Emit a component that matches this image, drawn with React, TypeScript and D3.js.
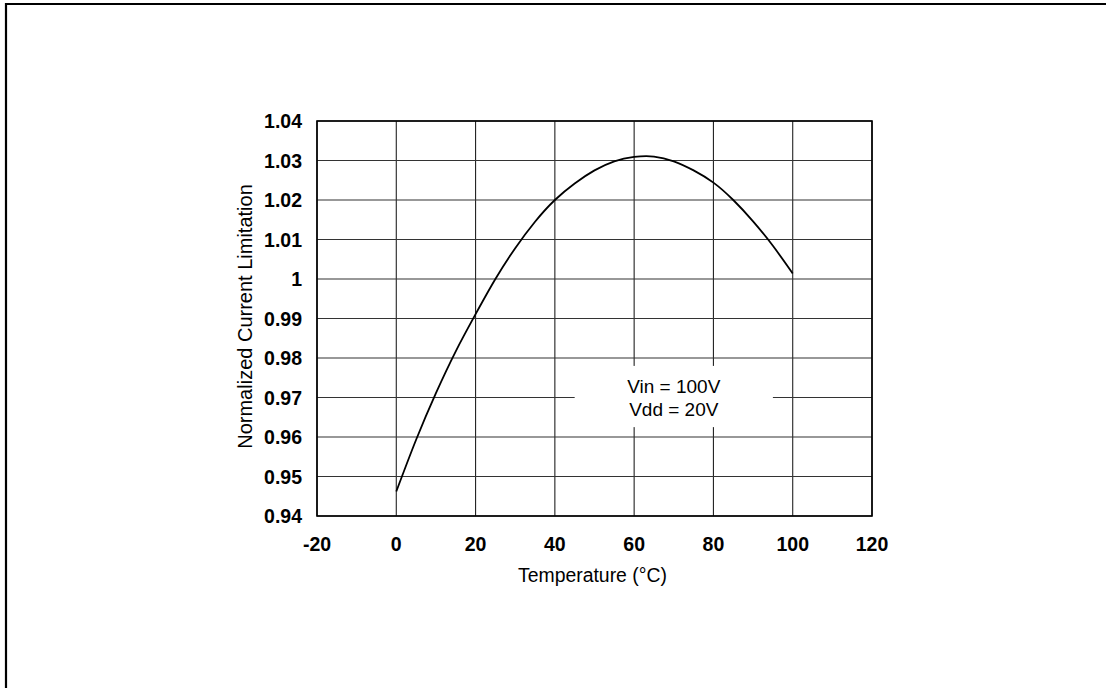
import { useEffect, useRef } from 'react';
import * as d3 from 'd3';

const temperatures = [0, 5, 10, 15, 20, 25, 30, 35, 40, 45, 50, 55, 60, 65, 70, 75, 80, 85, 90, 95, 100];
const currentLimitation = [
  0.9462, 0.9593, 0.9711, 0.9817, 0.9911, 1.0, 1.0078, 1.0145, 1.02, 1.0242, 1.0275,
  1.0298, 1.0309, 1.031, 1.0298, 1.0275, 1.0244, 1.02, 1.0146, 1.0084, 1.0014,
];
const xTicks = [-20, 0, 20, 40, 60, 80, 100, 120];
const yTicks = [0.94, 0.95, 0.96, 0.97, 0.98, 0.99, 1, 1.01, 1.02, 1.03, 1.04];
const legendLines = ['Vin = 100V', 'Vdd = 20V'];
// legend box extent in data units
const legendX = [45, 95];
const legendY = [0.9625, 0.978];

const width = 1106;
const height = 688;
const font = "'Liberation Sans', Arial, Helvetica, sans-serif";

export default function App() {
  const svgRef = useRef<SVGSVGElement>(null);

  useEffect(() => {
    if (!svgRef.current) return;
    const svg = d3.select(svgRef.current);
    svg.selectAll('*').remove();

    const margin = { top: 121, left: 317 };
    const chartWidth = 555;
    const chartHeight = 395;

    // outer frame (only top and left edges visible)
    svg
      .append('path')
      .attr('d', `M6,${height} V4 H${width}`)
      .attr('fill', 'none')
      .attr('stroke', '#000')
      .attr('stroke-width', 2.2);

    const chart = svg.append('g').attr('transform', `translate(${margin.left},${margin.top})`);

    const x = d3.scaleLinear().domain([-20, 120]).range([0, chartWidth]);
    const y = d3.scaleLinear().domain([0.94, 1.04]).range([chartHeight, 0]);

    chart
      .append('g')
      .selectAll('line')
      .data(xTicks)
      .join('line')
      .attr('x1', (d) => x(d))
      .attr('x2', (d) => x(d))
      .attr('y1', 0)
      .attr('y2', chartHeight)
      .attr('stroke', '#222')
      .attr('stroke-width', 1.1);

    chart
      .append('g')
      .selectAll('line')
      .data(yTicks)
      .join('line')
      .attr('x1', 0)
      .attr('x2', chartWidth)
      .attr('y1', (d) => y(d))
      .attr('y2', (d) => y(d))
      .attr('stroke', '#333')
      .attr('stroke-width', 1.1);

    chart
      .append('rect')
      .attr('width', chartWidth)
      .attr('height', chartHeight)
      .attr('fill', 'none')
      .attr('stroke', '#000')
      .attr('stroke-width', 1.6);

    // legend box hides the grid behind it
    const lx0 = x(legendX[0]);
    const lx1 = x(legendX[1]);
    const ly0 = y(legendY[1]);
    const ly1 = y(legendY[0]);
    chart
      .append('rect')
      .attr('x', lx0)
      .attr('y', ly0)
      .attr('width', lx1 - lx0)
      .attr('height', ly1 - ly0)
      .attr('fill', '#fff');

    chart
      .append('g')
      .selectAll('text')
      .data(legendLines)
      .join('text')
      .attr('x', (lx0 + lx1) / 2)
      .attr('y', (_, i) => (ly0 + ly1) / 2 - 4 + i * 23.5)
      .attr('text-anchor', 'middle')
      .attr('font-family', font)
      .attr('font-size', 19)
      .attr('fill', '#000')
      .text((d) => d);

    const points = temperatures.map((t, i) => [t, currentLimitation[i]] as [number, number]);
    const line = d3
      .line<[number, number]>()
      .x((d) => x(d[0]))
      .y((d) => y(d[1]))
      .curve(d3.curveNatural);

    chart
      .append('path')
      .datum(points)
      .attr('fill', 'none')
      .attr('stroke', '#000')
      .attr('stroke-width', 1.8)
      .attr('d', line);

    chart
      .append('g')
      .selectAll('text')
      .data(xTicks)
      .join('text')
      .attr('x', (d) => x(d))
      .attr('y', chartHeight + 35)
      .attr('text-anchor', 'middle')
      .attr('font-family', font)
      .attr('font-weight', 'bold')
      .attr('font-size', 19.5)
      .attr('fill', '#000')
      .text((d) => String(d));

    chart
      .append('g')
      .selectAll('text')
      .data(yTicks)
      .join('text')
      .attr('x', -15)
      .attr('y', (d) => y(d))
      .attr('dy', '0.36em')
      .attr('text-anchor', 'end')
      .attr('font-family', font)
      .attr('font-weight', 'bold')
      .attr('font-size', 19.5)
      .attr('fill', '#000')
      .text((d) => String(+d.toFixed(2)));

    chart
      .append('text')
      .attr('x', chartWidth / 2 - 2)
      .attr('y', chartHeight + 66)
      .attr('text-anchor', 'middle')
      .attr('font-family', font)
      .attr('font-size', 19.4)
      .attr('fill', '#000')
      .text('Temperature (°C)');

    chart
      .append('text')
      .attr('transform', `translate(${-65},${chartHeight / 2 - 2}) rotate(-90)`)
      .attr('text-anchor', 'middle')
      .attr('font-family', font)
      .attr('font-size', 20)
      .attr('fill', '#000')
      .text('Normalized Current Limitation');
  }, []);

  return (
    <svg
      ref={svgRef}
      width={width}
      height={height}
      viewBox={`0 0 ${width} ${height}`}
      style={{ position: 'absolute', left: 0, top: 0, background: '#fff' }}
    />
  );
}
